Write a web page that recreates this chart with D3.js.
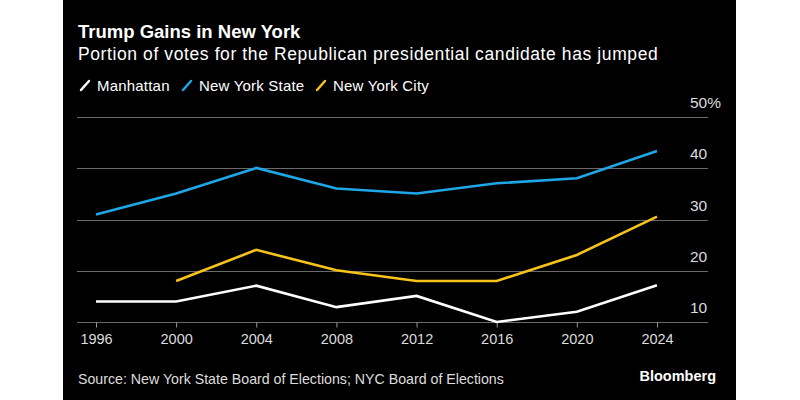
<!DOCTYPE html>
<html>
<head>
<meta charset="utf-8">
<script src="https://cdn.jsdelivr.net/npm/d3@7"></script>
<style>
  html, body { margin: 0; padding: 0; background: #fff; }
  svg { display: block; }
  text { font-family: "Liberation Sans", Arial, sans-serif; }
</style>
</head>
<body>
<svg id="chart" width="800" height="400"></svg>
<script>
const years = [1996, 2000, 2004, 2008, 2012, 2016, 2020, 2024];
const manhattan = [14.0, 14.0, 17.1, 12.9, 15.1, 10.0, 12.0, 17.2];
const newYorkState = [31.0, 35.1, 40.1, 36.1, 35.1, 37.1, 38.1, 43.4];
const newYorkCity = [null, 18.0, 24.1, 20.1, 18.0, 18.0, 23.1, 30.6];
const yTicks = [10, 20, 30, 40, 50];
const yTickLabels = ["10", "20", "30", "40", "50%"];

const seriesList = [
  { name: "Manhattan", values: manhattan, color: "#ffffff" },
  { name: "New York State", values: newYorkState, color: "#1ea6e6" },
  { name: "New York City", values: newYorkCity, color: "#f6c31c" }
];

const svg = d3.select("#chart");
svg.append("rect").attr("x", 63).attr("y", 0).attr("width", 673).attr("height", 400).attr("fill", "#000");

svg.append("text").attr("x", 78).attr("y", 37.5)
  .attr("fill", "#fff").attr("font-size", 18.5).attr("font-weight", "bold")
  .text("Trump Gains in New York");
svg.append("text").attr("x", 78).attr("y", 59.5)
  .attr("fill", "#fff").attr("font-size", 17.5).attr("letter-spacing", 0.6)
  .text("Portion of votes for the Republican presidential candidate has jumped");

// legend
const legendX = [80, 182, 316];
seriesList.forEach((s, i) => {
  const g = svg.append("g").attr("transform", `translate(${legendX[i]},0)`);
  g.append("line").attr("x1", 1).attr("y1", 90).attr("x2", 9).attr("y2", 81)
    .attr("stroke", s.color).attr("stroke-width", 2.5).attr("stroke-linecap", "round");
  g.append("text").attr("x", 17).attr("y", 91).attr("fill", "#fff").attr("font-size", 15)
    .attr("letter-spacing", 0.2).text(s.name);
});

const x = d3.scaleLinear().domain([1996, 2024]).range([96, 657]);
const y = d3.scaleLinear().domain([10, 50]).range([322, 117.3]);

// gridlines
svg.append("g").selectAll("line").data(yTicks).join("line")
  .attr("x1", 77).attr("x2", 708)
  .attr("y1", d => Math.round(y(d)) + 0.5).attr("y2", d => Math.round(y(d)) + 0.5)
  .attr("stroke", "#6a6a6a").attr("stroke-width", 1);

svg.append("g").selectAll("text").data(yTicks).join("text")
  .attr("x", 690).attr("y", d => y(d) - 9)
  .attr("fill", "#ddd").attr("font-size", 15.5)
  .text((d, i) => yTickLabels[i]);

// x axis
const xAxis = d3.axisBottom(x).tickValues(years).tickFormat(d3.format("d")).tickSize(5).tickPadding(6);
const gx = svg.append("g").attr("transform", `translate(0,${Math.round(y(10)) + 0.5})`).call(xAxis);
gx.select(".domain").remove();
gx.selectAll(".tick line").attr("stroke", "#999");
gx.selectAll(".tick text").attr("fill", "#ddd").attr("font-size", 14.5)
  .attr("font-family", '"Liberation Sans", Arial, sans-serif');

// lines
const line = d3.line()
  .defined(d => d[1] !== null)
  .x(d => x(d[0])).y(d => y(d[1]));

seriesList.slice().reverse().forEach(s => {
  svg.append("path")
    .datum(years.map((yr, i) => [yr, s.values[i]]))
    .attr("fill", "none").attr("stroke", s.color).attr("stroke-width", 2.6)
    .attr("stroke-linejoin", "miter").attr("d", line);
});

svg.append("text").attr("x", 78).attr("y", 384)
  .attr("fill", "#ddd").attr("font-size", 14.2)
  .text("Source: New York State Board of Elections; NYC Board of Elections");
svg.append("text").attr("x", 716).attr("y", 381).attr("text-anchor", "end")
  .attr("fill", "#fff").attr("font-size", 14.5).attr("font-weight", "bold")
  .text("Bloomberg");
</script>
</body>
</html>
